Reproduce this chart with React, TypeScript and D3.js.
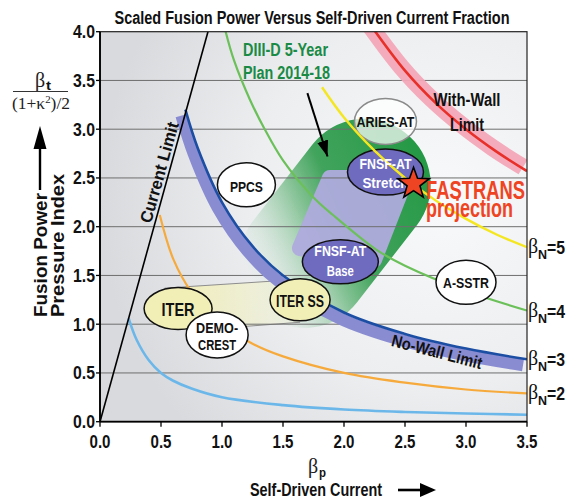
import React from "react";
import * as d3 from "d3";

// ---------- data ----------
const X_TICKS = [0, 0.5, 1, 1.5, 2, 2.5, 3, 3.5];
const X_TICK_LABELS = ["0.0", "0.5", "1.0", "1.5", "2.0", "2.5", "3.0", "3.5"];
const Y_TICKS = [0, 0.5, 1, 1.5, 2, 2.5, 3, 3.5, 4];
const Y_TICK_LABELS = ["0.0", "0.5", "1.0", "1.5", "2.0", "2.5", "3.0", "3.5", "4.0"];
const GRID_VALUES = [0.5, 1, 1.5, 2, 2.5, 3, 3.5];

const CURRENT_LIMIT = [[0, 0], [0.885, 4.0]];
const BETA_N1 = [[0.235, 1.06], [0.3, 0.84], [0.4, 0.63], [0.5, 0.5], [0.6, 0.42], [0.75, 0.34], [1.0, 0.25], [1.5, 0.17], [2.0, 0.125], [2.5, 0.1], [3.0, 0.084], [3.5, 0.072]];
const BETA_N2 = [[0.49, 2.12], [0.6, 1.67], [0.75, 1.33], [1.0, 1.0], [1.25, 0.8], [1.5, 0.67], [2.0, 0.5], [2.5, 0.4], [3.0, 0.33], [3.5, 0.29]];
const BETA_N3 = [[0.7, 3.2], [0.8, 2.81], [1.0, 2.25], [1.25, 1.8], [1.5, 1.5], [2.0, 1.12], [2.5, 0.9], [3.0, 0.75], [3.5, 0.64]];
const BETA_N4 = [[1.03, 4.0], [1.1, 3.7], [1.23, 3.3], [1.35, 3.0], [1.5, 2.68], [1.75, 2.3], [1.91, 2.12], [2.27, 1.76], [2.5, 1.6], [3.0, 1.34], [3.5, 1.14]];
const BETA_N5 = [[1.82, 3.43], [2.0, 3.12], [2.25, 2.78], [2.5, 2.5], [2.75, 2.27], [3.0, 2.08], [3.25, 1.92], [3.5, 1.79]];
const WITH_WALL = [[2.2, 4.1], [2.5, 3.6], [2.75, 3.27], [3.0, 3.0], [3.25, 2.77], [3.5, 2.57]];

const BETA_N_LABELS = ["5", "4", "3", "2"];
const BETA_N_LABEL_Y = [1.79, 1.14, 0.64, 0.29];

// DIII-D 5-year plan region (axis of the capsule, data coords)
const DIIID_AXIS = [[2.17, 2.43], [1.68, 1.64]];
// FNSF-AT path (Base -> Stretch) region outline
const FNSF_REGION = [[1.885, 2.5], [2.508, 2.5], [2.246, 1.66], [1.639, 1.78]];
// ITER -> ITER SS band outline
const ITER_BAND_TOP = [[0.53, 1.37], [1.64, 1.46]];
const ITER_BAND_BOTTOM = [[1.64, 1.02], [0.9, 0.95]];

const DEVICES = [
  { name: "ITER", lines: ["ITER"], x: 0.64, y: 1.16, kind: "yellow" },
  { name: "DEMO", lines: ["DEMO-", "CREST"], x: 0.96, y: 0.89, kind: "white" },
  { name: "ITERSS", lines: ["ITER SS"], x: 1.64, y: 1.25, kind: "yellow" },
  { name: "BASE", lines: ["FNSF-AT", "Base"], x: 1.97, y: 1.64, kind: "blue" },
  { name: "STRETCH", lines: ["FNSF-AT", "Stretch"], x: 2.34, y: 2.56, kind: "blue" },
  { name: "ARIES", lines: ["ARIES-AT"], x: 2.34, y: 3.08, kind: "aries" },
  { name: "PPCS", lines: ["PPCS"], x: 1.2, y: 2.43, kind: "white" },
  { name: "ASSTR", lines: ["A-SSTR"], x: 3.0, y: 1.43, kind: "white" },
];
const FASTRANS = { x: 2.57, y: 2.44 };
const PLAN_ARROW = [[1.7, 3.37], [1.865, 2.72]];

// ---------- styles ----------
const FONT = "'Liberation Sans Narrow', 'Arial Narrow', 'Liberation Sans', Arial, sans-serif";
const SERIF = "'Liberation Serif', 'Times New Roman', serif";

const ELLIPSE_SIZE: Record<string, any> = {
  ITER: { rx: 34, ry: 21, size: 18, widths: [33], dy: [7] },
  DEMO: { rx: 31, ry: 23, size: 15, widths: [42, 38], dy: [-2, 15] },
  ITERSS: { rx: 30, ry: 21, size: 17, widths: [48], dy: [7] },
  BASE: { rx: 38, ry: 22, size: 15, widths: [52, 27], dy: [-6, 14] },
  STRETCH: { rx: 38, ry: 23, size: 15, widths: [52, 46], dy: [-3, 16] },
  ARIES: { rx: 31, ry: 23, size: 15, widths: [58], dy: [6] },
  PPCS: { rx: 29, ry: 22, size: 15, widths: [33], dy: [7] },
  ASSTR: { rx: 30, ry: 22, size: 15, widths: [46], dy: [6] },
};
const KIND_STYLE: Record<string, any> = {
  yellow: { fill: "#f2efb6", stroke: "#111", text: "#111", op: 1 },
  white: { fill: "#ffffff", stroke: "#111", text: "#111", op: 1 },
  blue: { fill: "#6f6cc0", stroke: "#111", text: "#ffffff", op: 1 },
  aries: { fill: "#ffffff", stroke: "#8a8a8a", text: "#111", op: 0.72 },
};

const T = (p: any) => (
  <text
    x={p.x}
    y={p.y}
    fontSize={p.size || 16}
    fontWeight={p.weight ?? 700}
    textAnchor={p.anchor || "middle"}
    fill={p.fill || "#111"}
    fontFamily={p.family || FONT}
    textLength={p.w}
    lengthAdjust={p.w ? "spacingAndGlyphs" : undefined}
    transform={p.transform}
  >
    {p.children}
  </text>
);

function starPath(cx: number, cy: number, R: number, r: number) {
  const pts = d3.range(10).map((i) => {
    const a = -Math.PI / 2 + (i * Math.PI) / 5;
    const rad = i % 2 ? r : R;
    return [cx + rad * Math.cos(a), cy + rad * Math.sin(a)];
  });
  return "M" + pts.map((p) => p.join(",")).join("L") + "Z";
}

export default function App() {
  const x = d3.scaleLinear().domain([0, 3.5]).range([100, 527]);
  const y = d3.scaleLinear().domain([0, 4]).range([421.7, 31.7]);
  const curve = d3
    .line<number[]>()
    .x((d) => x(d[0]))
    .y((d) => y(d[1]))
    .curve(d3.curveCatmullRom.alpha(0.5));
  const straight = d3
    .line<number[]>()
    .x((d) => x(d[0]))
    .y((d) => y(d[1]));
  const closed = d3
    .line<number[]>()
    .x((d) => x(d[0]))
    .y((d) => y(d[1]))
    .curve(d3.curveLinearClosed);

  const [x0, x1] = x.range();
  const [yb, yt] = y.range();

  const iterPoly = [...ITER_BAND_TOP, ...ITER_BAND_BOTTOM];

  const starX = x(FASTRANS.x);
  const starY = y(FASTRANS.y);

  return (
    <div style={{ position: "absolute", left: 0, top: 0 }}>
      <svg width={574} height={499} style={{ display: "block", background: "#fff" }}>
        <defs>
          <clipPath id="plot">
            <rect x={x0} y={yt} width={x1 - x0} height={yb - yt} />
          </clipPath>
          <radialGradient id="bg" gradientUnits="userSpaceOnUse" cx={440} cy={200} r={340}>
            <stop offset="0" stopColor="#f8f9fa" />
            <stop offset="0.55" stopColor="#eceef0" />
            <stop offset="1" stopColor="#d9dadd" />
          </radialGradient>
          <linearGradient id="green" gradientUnits="userSpaceOnUse" x1={432} y1={188} x2={250} y2={275}>
            <stop offset="0" stopColor="#269946" stopOpacity={1} />
            <stop offset="0.45" stopColor="#2e9b4c" stopOpacity={0.9} />
            <stop offset="0.62" stopColor="#3fa458" stopOpacity={0.6} />
            <stop offset="0.85" stopColor="#7cc08d" stopOpacity={0.2} />
            <stop offset="1" stopColor="#a8d6b2" stopOpacity={0} />
          </linearGradient>
          <linearGradient id="iterg" gradientUnits="userSpaceOnUse" x1={x(0.55)} y1={0} x2={x(1.64)} y2={0}>
            <stop offset="0" stopColor="#f4f0b0" stopOpacity={0.95} />
            <stop offset="1" stopColor="#f1f2d0" stopOpacity={0.35} />
          </linearGradient>
          <marker id="ahead" markerUnits="userSpaceOnUse" markerWidth={16} markerHeight={22} refX={20} refY={7} orient="auto" viewBox="0 0 20 14">
            <path d="M0,0 L20,7 L0,14 Z" fill="#000" />
          </marker>
        </defs>

        {/* plot background */}
        <rect x={x0} y={yt} width={x1 - x0} height={yb - yt} fill="url(#bg)" />

        <g clipPath="url(#plot)">
          {/* DIII-D region */}
          <path d={straight(DIIID_AXIS) || ""} stroke="url(#green)" strokeWidth={132} strokeLinecap="round" fill="none" />
          {/* FNSF-AT path region */}
          <path d={closed(FNSF_REGION) || ""} fill="#afabde" stroke="#afabde" strokeWidth={16} strokeLinejoin="round" opacity={0.95} />
          {/* ITER band */}
          <path d={closed(iterPoly) || ""} fill="url(#iterg)" />
          <path d={straight(ITER_BAND_TOP) || ""} stroke="#8d8d8d" strokeWidth={1} fill="none" />
          <path d={straight([ITER_BAND_BOTTOM[1], ITER_BAND_BOTTOM[0]]) || ""} stroke="#8d8d8d" strokeWidth={1} fill="none" />

          {/* grid */}
          {GRID_VALUES.map((v) => (
            <line key={v} x1={x0} x2={x1} y1={y(v)} y2={y(v)} stroke="#6e6e6e" strokeWidth={1} />
          ))}

          {/* bands */}
          <path d={curve(WITH_WALL) || ""} transform="translate(-4,-4)" stroke="#f3a7b8" strokeWidth={17} fill="none" opacity={0.95} />
          <path d={curve(BETA_N3) || ""} transform="translate(-4,6)" stroke="#8a8cd2" strokeWidth={12} fill="none" />

          {/* curves */}
          <path d={curve(BETA_N1) || ""} stroke="#6cb7ea" strokeWidth={2.6} fill="none" />
          <path d={curve(BETA_N2) || ""} stroke="#f7aa3c" strokeWidth={2.2} fill="none" />
          <path d={curve(BETA_N3) || ""} stroke="#1c4ea3" strokeWidth={2.6} fill="none" />
          <path d={curve(BETA_N4) || ""} stroke="#6cc05a" strokeWidth={2.2} fill="none" />
          <path d={curve(WITH_WALL) || ""} stroke="#e8302a" strokeWidth={2.6} fill="none" />
          <path d={straight(CURRENT_LIMIT) || ""} stroke="#000" strokeWidth={1.6} fill="none" />
        </g>

        {/* device ellipses */}
        {DEVICES.map((d) => {
          const s = ELLIPSE_SIZE[d.name];
          const k = KIND_STYLE[d.kind];
          return (
            <ellipse key={d.name} cx={x(d.x)} cy={y(d.y)} rx={s.rx} ry={s.ry} fill={k.fill} fillOpacity={k.op} stroke={k.stroke} strokeWidth={1.5} />
          );
        })}

        {/* beta_N = 5 curve drawn over the ellipses */}
        <g clipPath="url(#plot)">
          <path d={curve(BETA_N5) || ""} stroke="#f4e620" strokeWidth={2.4} fill="none" />
        </g>

        {/* device labels */}
        {DEVICES.map((d) => {
          const s = ELLIPSE_SIZE[d.name];
          const k = KIND_STYLE[d.kind];
          return d.lines.map((ln, i) => (
            <T key={d.name + i} x={x(d.x)} y={y(d.y) + s.dy[i]} size={s.size} w={s.widths[i]} fill={k.text}>
              {ln}
            </T>
          ));
        })}

        {/* FASTRANS star */}
        <path d={starPath(starX, starY, 16.5, 6.8)} fill="#ef4423" stroke="#000" strokeWidth={1.6} strokeLinejoin="miter" />
        <T x={426} y={199} size={25} w={99} anchor="start" fill="#ef4423">FASTRANS</T>
        <T x={426} y={217} size={25} w={87} anchor="start" fill="#ef4423">projection</T>

        {/* DIII-D plan text + arrow */}
        <T x={243} y={56} size={18} w={85} anchor="start" fill="#1a8a45">DIII-D 5-Year</T>
        <T x={243} y={79} size={18} w={87} anchor="start" fill="#1a8a45">Plan 2014-18</T>
        <line x1={x(PLAN_ARROW[0][0])} y1={y(PLAN_ARROW[0][1])} x2={x(PLAN_ARROW[1][0])} y2={y(PLAN_ARROW[1][1])} stroke="#000" strokeWidth={2} markerEnd="url(#ahead)" />

        {/* limit annotations */}
        <T x={467} y={106} size={18} w={67}>With-Wall</T>
        <T x={467} y={131} size={18} w={34}>Limit</T>
        <T x={0} y={0} size={17} w={93} transform="translate(435.5,357.5) rotate(14.5)">No-Wall Limit</T>
        <T x={0} y={0} size={17} w={104} transform="translate(165,174) rotate(-74.5)">Current Limit</T>

        {/* frame */}
        <rect x={x0} y={yt} width={x1 - x0} height={yb - yt} fill="none" stroke="#222" strokeWidth={1.2} />
        <line x1={x0} x2={x0} y1={yt} y2={yb} stroke="#000" strokeWidth={1.8} />
        <line x1={x0} x2={x1} y1={yb} y2={yb} stroke="#000" strokeWidth={1.8} />

        {/* axes ticks */}
        {X_TICKS.map((v, i) => (
          <g key={"x" + v}>
            <line x1={x(v)} x2={x(v)} y1={yb} y2={yb + 5} stroke="#000" strokeWidth={1.3} />
            <T x={x(v)} y={448} size={18} w={21}>{X_TICK_LABELS[i]}</T>
          </g>
        ))}
        {Y_TICKS.map((v, i) => (
          <g key={"y" + v}>
            <line x1={x0 - 4} x2={x0} y1={y(v)} y2={y(v)} stroke="#000" strokeWidth={1.3} />
            <T x={95} y={y(v) + 6.5} size={18} w={22} anchor="end">{Y_TICK_LABELS[i]}</T>
          </g>
        ))}

        {/* beta_N labels at right */}
        {BETA_N_LABELS.map((n, i) => {
          const yy = y(BETA_N_LABEL_Y[i]);
          return (
            <g key={"bn" + n}>
              <text x={528} y={yy + 6} fontSize={20} fontFamily={SERIF} fill="#111">β</text>
              <T x={538} y={yy + 12} size={13} anchor="start" w={9}>N</T>
              <T x={547} y={yy + 7} size={18} anchor="start" w={18}>{"=" + n}</T>
            </g>
          );
        })}

        {/* title */}
        <T x={312} y={24} size={18} w={395}>Scaled Fusion Power Versus Self-Driven Current Fraction</T>

        {/* y axis title */}
        <text x={35} y={87} fontSize={20} fontFamily={SERIF} fill="#222">β</text>
        <T x={46} y={90} size={12} anchor="start" w={5}>t</T>
        <line x1={13} x2={68} y1={91.5} y2={91.5} stroke="#333" strokeWidth={1} />
        <text x={41} y={109} fontSize={16} fontFamily={SERIF} fill="#222" textAnchor="middle" textLength={58} lengthAdjust="spacingAndGlyphs">
          (1+κ<tspan fontSize={10} dy={-6}>2</tspan><tspan dy={6}>)/2</tspan>
        </text>
        <line x1={40} x2={40} y1={190} y2={140} stroke="#000" strokeWidth={2.4} />
        <path d="M40,126 L46.5,149 L33.5,149 Z" fill="#000" />
        <T x={0} y={0} size={19} w={124} anchor="start" transform="translate(47,317) rotate(-90)">Fusion Power</T>
        <T x={0} y={0} size={19} w={143} anchor="start" transform="translate(63.5,317) rotate(-90)">Pressure Index</T>

        {/* x axis title */}
        <text x={308} y={473} fontSize={20} fontFamily={SERIF} fill="#222">β</text>
        <T x={319} y={477} size={13} anchor="start" w={7}>p</T>
        <T x={250} y={496} size={18} w={132} anchor="start">Self-Driven Current</T>
        <line x1={398} x2={422} y1={490} y2={490} stroke="#000" strokeWidth={2.6} />
        <path d="M436,490 L420,483 L420,497 Z" fill="#000" />
      </svg>
    </div>
  );
}
